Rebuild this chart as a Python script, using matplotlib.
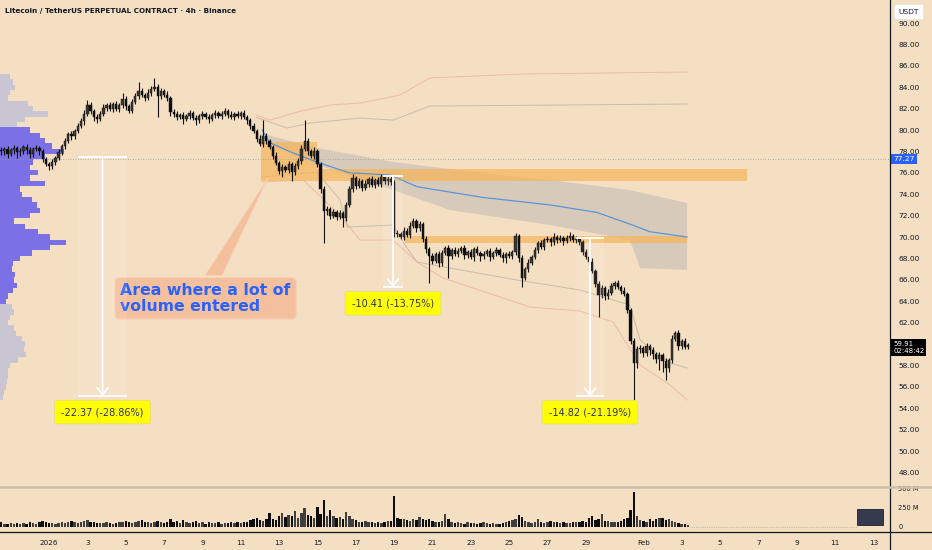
import numpy as np
import pandas as pd
import matplotlib
matplotlib.use('Agg')
import matplotlib.pyplot as plt
from matplotlib.patches import Rectangle, Polygon
from matplotlib.lines import Line2D
import matplotlib.transforms as mtrans

# ---------------- data ----------------
t0 = pd.Timestamp('2025-12-29 12:00')   # first 4h candle
open0 = 78.1
close = [
    78.0, 78.2, 77.8, 78.1, 78.3, 77.9, 78.0, 78.4, 78.1, 77.8, 78.2, 78.3, 78.0,
    77.3, 76.8, 76.6, 77.0, 77.4, 77.9,
    78.5, 79.0, 79.6, 79.4, 79.9, 80.4,
    80.8, 81.5, 82.3, 81.8, 81.2, 81.0, 81.5,
    82.1, 82.3, 82.0, 82.4, 82.0, 82.3, 82.9, 82.2, 81.8, 82.6,
    83.2, 83.6, 83.3, 83.0, 83.5, 83.8, 84.0, 83.2, 83.6, 83.3, 83.0, 81.7, 81.5,
    81.2, 81.4, 81.0, 81.3, 81.6, 81.1, 80.9, 81.3, 81.5, 81.2, 81.0, 81.4, 81.6, 81.3, 81.5, 81.8, 81.4,
    81.2, 81.5, 81.3, 81.6, 81.2, 80.9,
    80.4, 79.9, 79.2, 78.7, 79.4, 79.0, 78.4,
    77.6, 76.9, 76.2, 76.5, 76.3, 76.8, 76.1, 76.6, 77.1,
    78.2, 79.0, 78.0, 77.6, 78.0, 76.8,
    74.5, 72.4, 72.6, 72.0, 72.3, 71.9, 72.2, 71.8,
    73.0, 74.5, 75.5, 74.8, 75.2, 74.6, 75.0, 75.4, 74.9, 75.3, 75.0, 75.6, 75.2, 75.4,
    75.1, 70.4, 70.3, 70.0, 70.6, 70.2, 71.0, 71.5, 70.8, 71.2,
    69.8, 68.9, 68.2, 67.8, 68.4, 67.6, 68.5, 69.0, 68.2, 68.8, 68.4,
    68.7, 69.0, 68.3, 68.6, 68.1, 68.9, 68.5, 68.2, 68.4, 68.7, 68.1, 68.5, 68.8, 68.3, 68.0, 68.4, 68.2, 68.6,
    70.1, 68.0, 66.2, 67.0, 67.6, 68.1,
    68.8, 69.4, 69.1, 69.7, 69.8, 69.5, 70.0, 69.7, 69.9, 69.6, 69.9, 70.1, 69.7, 69.8, 69.5,
    68.6, 68.1, 67.7, 66.8, 65.6, 64.6, 65.2, 64.5,
    64.8, 65.4, 65.7, 65.3, 65.0, 64.7, 63.2, 60.3, 58.2, 59.5,
    59.6, 59.2, 59.8, 59.4, 59.1, 58.6, 59.0, 58.4, 57.8, 58.5, 60.5, 61.0, 59.8, 60.3, 59.7, 59.91,
]
wick_up = [
    0.3, 0.2, 0.3, 0.2, 0.3, 0.2, 0.3, 0.2, 0.3, 0.3, 0.2, 0.3, 0.2,
    0.2, 0.2, 0.2, 0.3, 0.2, 0.3,
    0.2, 0.3, 0.2, 0.3, 0.2, 0.3,
    0.3, 0.4, 0.5, 0.3, 0.2, 0.3, 0.3,
    0.3, 0.2, 0.3, 0.2, 0.3, 0.2, 0.6, 0.3, 0.2, 0.3,
    0.3, 0.9, 0.3, 0.2, 0.3, 0.3, 0.9, 0.3, 0.3, 0.2, 0.3, 0.2, 0.3,
    0.3, 0.2, 0.3, 0.2, 0.3, 0.2, 0.3, 0.2, 0.3, 0.2, 0.3, 0.2, 0.3, 0.2, 0.3, 0.3, 0.2,
    0.4, 0.2, 0.3, 0.2, 0.3, 0.2,
    0.2, 0.3, 0.2, 0.3, 1.5, 0.3, 0.2,
    0.2, 0.3, 0.2, 0.3, 0.2, 0.3, 0.2, 0.3, 0.3,
    0.4, 1.9, 0.3, 0.2, 0.4, 0.2,
    0.2, 0.3, 0.3, 0.2, 0.3, 0.2, 0.3, 0.2,
    0.3, 0.3, 0.4, 0.2, 0.3, 0.2, 0.3, 0.2, 0.3, 0.2, 0.3, 0.3, 0.2, 0.3,
    0.3, 0.2, 0.3, 0.2, 0.3, 0.2, 0.4, 0.3, 0.2, 0.3,
    0.2, 0.3, 0.2, 0.3, 0.2, 0.3, 0.3, 0.2, 0.3, 0.2, 0.3,
    0.3, 0.2, 0.3, 0.2, 0.3, 0.2, 0.3, 0.2, 0.3, 0.2, 0.3, 0.2, 0.3, 0.2, 0.3, 0.2, 0.3, 0.2,
    0.3, 0.2, 0.3, 0.2, 0.3, 0.2,
    0.3, 0.2, 0.3, 0.2, 0.3, 0.2, 0.4, 0.2, 0.3, 0.2, 0.3, 0.4, 0.2, 0.3, 0.2,
    0.2, 0.3, 0.2, 0.3, 0.2, 0.3, 0.3, 0.2,
    0.3, 0.3, 0.2, 0.3, 0.2, 0.3, 0.2, 0.2, 0.3, 0.3,
    0.3, 0.2, 0.3, 0.2, 0.3, 0.2, 0.3, 0.2, 0.3, 0.2, 0.3, 0.2, 0.3, 0.2, 0.3, 0.2,
]
wick_dn = [
    0.3, 0.3, 0.4, 0.2, 0.3, 0.5, 0.3, 0.2, 0.3, 0.4, 0.3, 0.2, 0.3,
    0.3, 0.2, 0.3, 0.2, 0.3, 0.2,
    0.2, 0.3, 0.2, 0.3, 0.2, 0.2,
    0.2, 0.3, 0.2, 0.3, 0.4, 0.3, 0.2,
    0.2, 0.3, 0.2, 0.3, 0.2, 0.3, 0.2, 0.3, 0.2, 0.2,
    0.2, 0.3, 0.2, 0.3, 0.2, 0.3, 0.2, 2.0, 0.3, 0.2, 0.3, 0.4, 0.3,
    0.3, 0.2, 0.4, 0.2, 0.3, 0.2, 0.4, 0.2, 0.3, 0.2, 0.3, 0.2, 0.3, 0.2, 0.3, 0.2, 0.3,
    0.2, 0.3, 0.2, 0.3, 0.2, 0.3,
    0.3, 0.2, 0.3, 0.2, 0.3, 0.3, 0.2,
    0.3, 0.2, 0.3, 0.6, 0.2, 0.3, 0.9, 0.3, 0.2,
    0.3, 0.2, 0.3, 0.2, 0.3, 0.3,
    0.4, 3.0, 0.3, 0.3, 0.2, 0.3, 0.2, 0.9,
    0.3, 0.2, 0.3, 0.3, 0.2, 0.3, 0.2, 0.3, 0.2, 0.3, 0.2, 0.3, 0.2, 0.3,
    0.2, 0.4, 0.3, 0.2, 0.3, 0.2, 0.3, 0.2, 0.3, 0.2,
    0.3, 0.4, 2.5, 0.3, 0.2, 0.4, 0.3, 0.2, 2.0, 0.3, 0.2,
    0.3, 0.2, 0.4, 0.3, 0.2, 0.3, 0.2, 0.4, 0.3, 0.2, 0.3, 0.2, 0.3, 0.2, 0.3, 0.4, 0.2, 0.3,
    0.3, 0.3, 0.9, 0.2, 0.3, 0.2,
    0.2, 0.3, 0.2, 0.3, 0.2, 0.3, 0.2, 0.3, 0.2, 0.3, 0.2, 0.3, 0.2, 0.3, 0.2,
    0.3, 0.2, 0.3, 0.2, 0.3, 2.1, 0.3, 0.4,
    0.3, 0.2, 0.3, 0.2, 0.3, 0.2, 0.3, 0.3, 3.4, 0.4,
    0.3, 0.4, 0.3, 0.4, 0.5, 0.4, 1.0, 1.0, 1.2, 0.4, 0.3, 0.2, 0.4, 0.3, 0.2, 0.2,
]
volume_m = [
    60, 45, 40, 50, 45, 55, 40, 50, 45, 60, 50, 45, 70,
    80, 65, 55, 50, 45, 55,
    60, 55, 70, 75, 60, 55,
    65, 80, 90, 70, 60, 55, 50,
    55, 60, 50, 45, 55, 65, 60, 75, 70, 55,
    60, 75, 90, 60, 65, 55, 70, 85, 60, 55, 70, 100, 60,
    75, 55, 90, 60, 50, 65, 80, 55, 60, 45, 70, 50, 55, 60, 45, 50, 55,
    60, 50, 65, 55, 60, 70,
    90, 110, 120, 95, 85, 100, 185,
    100, 90, 150, 190, 130, 160, 140, 215, 120,
    180, 250, 160, 140, 120, 260,
    170, 350, 150, 220, 140, 120, 130, 110,
    200, 150, 100, 90, 70, 60, 80, 65, 60, 55, 70, 50, 60, 75,
    75, 410, 120, 100, 110, 90, 80, 100, 90, 135,
    100, 95, 110, 85, 70, 60, 80, 170, 100, 70, 55,
    60, 50, 45, 60, 55, 50, 45, 55, 60, 50, 45, 55, 40, 45, 50, 60, 80, 95,
    110, 160, 130, 75, 60, 55,
    65, 100, 70, 55, 60, 75, 70, 65, 55, 60, 50, 55, 65, 70, 60,
    80, 70, 120, 145, 95, 110, 175, 80,
    85, 70, 65, 60, 75, 100, 120, 220, 465, 150,
    90, 80, 60, 100, 85, 110, 120, 115, 95, 110, 80, 60, 55, 45, 40, 30,
]

# visible-range volume profile (price bins of 0.5, relative volume)
vp_price = [85.0, 84.5, 84.0, 83.5, 83.0, 82.5, 82.0, 81.5, 81.0, 80.5,
            80.0, 79.5, 79.0, 78.5, 78.0, 77.5, 77.0, 76.5, 76.0, 75.5,
            75.0, 74.5, 74.0, 73.5, 73.0, 72.5, 72.0, 71.5, 71.0, 70.5,
            70.0, 69.5, 69.0, 68.5, 68.0, 67.5, 67.0, 66.5, 66.0, 65.5,
            65.0, 64.5, 64.0, 63.5, 63.0, 62.5, 62.0, 61.5, 61.0, 60.5,
            60.0, 59.5, 59.0, 58.5, 58.0, 57.5, 57.0, 56.5, 56.0, 55.5, 55.0]
vp_vol = [10, 13, 15, 10, 8, 28, 33, 48, 25, 17,
          30, 40, 45, 52, 64, 45, 33, 30, 38, 30,
          45, 20, 22, 32, 37, 40, 30, 14, 25, 38,
          50, 66, 50, 32, 20, 13, 12, 15, 14, 17,
          13, 8, 6, 12, 14, 10, 8, 14, 16, 22,
          25, 24, 26, 18, 10, 8, 8, 7, 6, 4, 3]
value_area = (64.0, 80.0)
poc_price = 77.27

# anchored VWAP and bands: (candle index, price)
vwap_idx = [81.7, 84.2, 91.4, 98.9, 109.0, 121.7, 130.2, 150.8, 171.8, 186.5, 197.8, 203.0, 214.7]
vwap_px = [80.0, 78.8, 77.85, 77.0, 76.0, 75.8, 74.7, 73.7, 73.0, 72.3, 71.1, 70.5, 70.0]
band_top_idx = [81.0, 98.9, 122.7, 156.1, 171.8, 196.8, 214.7]
band_top_px = [79.72, 78.32, 77.01, 75.79, 75.33, 74.39, 73.18]
band_bot_idx = [81.0, 98.9, 122.7, 140.5, 171.8, 196.8, 200.0, 214.7]
band_bot_px = [79.07, 76.73, 74.39, 72.52, 71.12, 69.72, 67.1, 66.92]

up_pink_idx = [79.8, 84.2, 92.6, 103.0, 112.3, 124.8, 134.2, 162.4, 214.7]
up_pink_px = [81.4, 80.93, 81.68, 82.34, 82.52, 83.27, 84.86, 85.23, 85.42]
up_grey_idx = [79.8, 89.5, 96.7, 112.3, 122.7, 131.0, 134.2, 214.7]
up_grey_px = [81.2, 80.19, 80.65, 81.12, 80.93, 81.87, 82.24, 82.43]
lo_grey_idx = [81.7, 98.9, 106.1, 108.3, 122.7, 126.4, 130.2, 140.5, 161.5, 181.2, 196.8, 200.0, 209.4, 214.7]
lo_grey_px = [75.6, 76.07, 73.46, 70.93, 71.12, 69.25, 67.66, 67.1, 65.98, 65.05, 63.64, 60.37, 58.22, 57.76]
lo_pink_idx = [81.7, 94.5, 106.1, 112.3, 122.7, 130.2, 138.3, 165.5, 181.2, 191.5, 200.0, 209.4, 214.7]
lo_pink_px = [75.14, 75.33, 72.06, 69.72, 69.72, 67.66, 66.17, 63.46, 63.08, 62.06, 58.04, 56.17, 54.77]

# highlighted zones: (start idx, end idx, low, high)
zones = [(81.3, 98.9, 75.2, 78.9), (98.9, 233.5, 75.2, 76.35), (126.4, 214.7, 69.4, 70.1)]

# price-range measurements: (left idx, right idx, top price, bottom price, label)
ranges = [(24.1, 39.4, 77.51, 55.14, '-22.37 (-28.86%)'),
          (119.5, 125.8, 75.71, 65.30, '-10.41 (-13.75%)'),
          (179.9, 188.7, 69.94, 55.12, '-14.82 (-21.19%)')]

tick_dates = ['2026-01-01', '2026-01-03', '2026-01-05', '2026-01-07', '2026-01-09', '2026-01-11',
              '2026-01-13', '2026-01-15', '2026-01-17', '2026-01-19', '2026-01-21', '2026-01-23',
              '2026-01-25', '2026-01-27', '2026-01-29', '2026-02-01', '2026-02-03', '2026-02-05',
              '2026-02-07', '2026-02-09', '2026-02-11', '2026-02-13']
tick_labels = ['2026', '3', '5', '7', '9', '11', '13', '15', '17', '19', '21', '23',
               '25', '27', '29', 'Feb', '3', '5', '7', '9', '11', '13']
# 60.00 is covered by the last-price tag in the reference
price_ticks = [48, 50, 52, 54, 56, 58, 62, 64, 66, 68, 70, 72, 74, 76, 78, 80, 82, 84, 86, 88, 90]

# ---------------- figure ----------------
BG = '#f4dfc2'
DARK = '#131722'
W, H = 932, 550
plt.rcParams['font.family'] = ['DejaVu Sans']
fig = plt.figure(figsize=(W / 100, H / 100), dpi=100, facecolor=BG)


def fy(py):
    return 1 - py / H


ax = fig.add_axes([0, fy(487), 890 / W, 487 / H])
axv = fig.add_axes([0, fy(532), 890 / W, 44 / H])
for a in (ax, axv):
    a.set_facecolor(BG)
    for s in a.spines.values():
        s.set_visible(False)

c = np.array(close)
o = np.r_[open0, c[:-1]]
hi = np.maximum(o, c) + np.array(wick_up)
lo = np.minimum(o, c) - np.array(wick_dn)
idx = np.arange(len(c))
up = c >= o

XMIN, XMAX = -0.35, 278.2
ax.set_xlim(XMIN, XMAX)
ax.set_ylim(46.64, 92.15)
axv.set_xlim(XMIN, XMAX)
axv.set_ylim(-66, 513)

# volume profile
vpv = np.array(vp_vol, float)
k = 0.074 * (XMAX - XMIN) / vpv.max()
vpp = np.array(vp_price)
in_va = (vpp >= value_area[0]) & (vpp <= value_area[1])
ax.barh(vpp, vpv * k, height=0.5, left=XMIN,
        color=np.where(in_va, '#7b70e6', '#cac5d3'), edgecolor='none', zorder=2)

# VWAP band and outer bands
ax.fill(np.r_[band_top_idx, band_bot_idx[::-1]], np.r_[band_top_px, band_bot_px[::-1]],
        color='#bdb6b3', alpha=0.5, lw=0, zorder=2.5)
ax.plot(up_pink_idx, up_pink_px, color='#ecb4a2', lw=0.7, alpha=0.85, zorder=2.6)
ax.plot(up_grey_idx, up_grey_px, color='#c2b6a4', lw=0.7, alpha=0.85, zorder=2.6)
ax.plot(lo_pink_idx, lo_pink_px, color='#ecb4a2', lw=0.7, alpha=0.85, zorder=2.6)
ax.plot(lo_grey_idx, lo_grey_px, color='#c2b6a4', lw=0.7, alpha=0.85, zorder=2.6)

# zones
for (x0, x1, p0, p1) in zones:
    ax.add_patch(Rectangle((x0, p0), x1 - x0, p1 - p0, fc='#f6b55a', alpha=0.72, ec='none', zorder=3))

ax.plot(vwap_idx, vwap_px, color='#5b95d8', lw=0.9, zorder=3.5)
ax.axhline(poc_price, color='#9a9aa0', lw=0.6, ls=(0, (1, 2)), zorder=3.6)

# candles
ax.vlines(idx, lo, hi, color='#111111', lw=0.8, zorder=5)
body = np.maximum(np.abs(c - o), 0.08)
ax.bar(idx, body, bottom=np.minimum(o, c), width=0.72,
       color=np.where(up, '#3a3733', '#0d0d0d'), edgecolor='#0d0d0d', lw=0.3, zorder=6)

# callout
ax.add_patch(Polygon([[63.8, 66.4], [69.1, 66.4], [83.5, 75.5]], closed=True,
                     fc='#f4bf9c', ec='#f8d2b6', lw=0.6, zorder=6.5))
ax.text(37.3, 65.7, 'Area where a lot of\nvolume entered', ha='left', va='top',
        fontsize=11.3, fontweight='bold', color='#2962ff', linespacing=1.05, zorder=7,
        bbox=dict(boxstyle='round,pad=0.35,rounding_size=0.3', fc='#f4bf9c', ec='#f8d2b6', lw=0.8))

# measurements
for (x0, x1, pt, pb, lab) in ranges:
    mid = (x0 + x1) / 2
    ax.add_patch(Rectangle((x0, pb), x1 - x0, pt - pb, fc='white', alpha=0.1, ec='none', zorder=7))
    ax.plot([x0, x1], [pt, pt], color='white', lw=1.3, zorder=8, solid_capstyle='butt')
    ax.plot([x0, x1], [pb, pb], color='white', lw=1.3, zorder=8, solid_capstyle='butt')
    ax.annotate('', xy=(mid, pb), xytext=(mid, pt), zorder=8,
                arrowprops=dict(arrowstyle='->,head_length=0.5,head_width=0.4', color='white',
                                lw=1.3, shrinkA=0, shrinkB=0))
    ax.annotate(lab, xy=(mid, pb), xytext=(0, -16), textcoords='offset pixels',
                ha='center', va='center', fontsize=7, color='#2e3359', zorder=9,
                bbox=dict(boxstyle='round,pad=0.7,rounding_size=0.25', fc='#ffff00', ec='#e2da8a', lw=0.5))

# price axis
ax.yaxis.tick_right()
ax.set_yticks(price_ticks)
ax.set_yticklabels([f'{p:.2f}' for p in price_ticks])
ax.tick_params(axis='y', length=0, pad=6, labelsize=5.4, labelcolor=DARK)
ax.set_xticks([])

# volume pane
vcol = np.where(up, '#3f3f3f', '#0d0d0d')
axv.bar(idx, volume_m, width=0.75, color=vcol, zorder=3)
axv.plot([idx[-1] + 1, 268], [4, 4], color='#c8b9a4', lw=0.8, ls=(0, (1, 1)), zorder=2)
axv.add_patch(Rectangle((268, 26), 8, 207, fc='#363a4f', ec='#1c1f2b', lw=0.6, zorder=3))
axv.yaxis.tick_right()
axv.set_yticks([0, 250, 500])
axv.set_yticklabels(['0', '250 M', '500 M'])
axv.tick_params(axis='y', length=0, pad=6, labelsize=4.8, labelcolor=DARK)
tpos = (pd.to_datetime(tick_dates) - t0) / pd.Timedelta('4h')
axv.set_xticks(np.asarray(tpos, float))
axv.set_xticklabels(tick_labels)
axv.tick_params(axis='x', length=0, pad=6, labelsize=5.2, labelcolor=DARK)

# frame lines
fig.add_artist(Line2D([890 / W, 890 / W], [0, 1], color=DARK, lw=0.9))
fig.add_artist(Line2D([0, 1], [fy(532), fy(532)], color=DARK, lw=0.9))
fig.add_artist(Line2D([0, 1], [fy(487), fy(487)], color='#cdbfab', lw=1.8))

# right-axis price tags
tr = mtrans.blended_transform_factory(ax.transAxes, ax.transData)
ax.text(1.0035, poc_price, f'{poc_price:.2f}', transform=tr, ha='left', va='center', fontsize=5.4,
        color='white', zorder=10, clip_on=False,
        bbox=dict(boxstyle='square,pad=0.3', fc='#2962ff', ec='none'))
ax.text(1.0035, close[-1] + 0.35, f'{close[-1]:.2f}\n02:48:42', transform=tr, ha='left', va='top',
        fontsize=5.0, color='white', zorder=10, clip_on=False, linespacing=1.15,
        bbox=dict(boxstyle='square,pad=0.3', fc='#000000', ec='none'))

fig.text(909 / W, fy(12), 'USDT', ha='center', va='center', fontsize=5.4, color=DARK,
         bbox=dict(boxstyle='round,pad=0.6,rounding_size=0.3', fc='white', ec='#e6e0d6', lw=0.5))
fig.text(5 / W, fy(11), 'Litecoin / TetherUS PERPETUAL CONTRACT · 4h · Binance',
         ha='left', va='center', fontsize=5.2, fontweight='bold', color=DARK)

fig.savefig('out.png', dpi=100, facecolor=BG)
